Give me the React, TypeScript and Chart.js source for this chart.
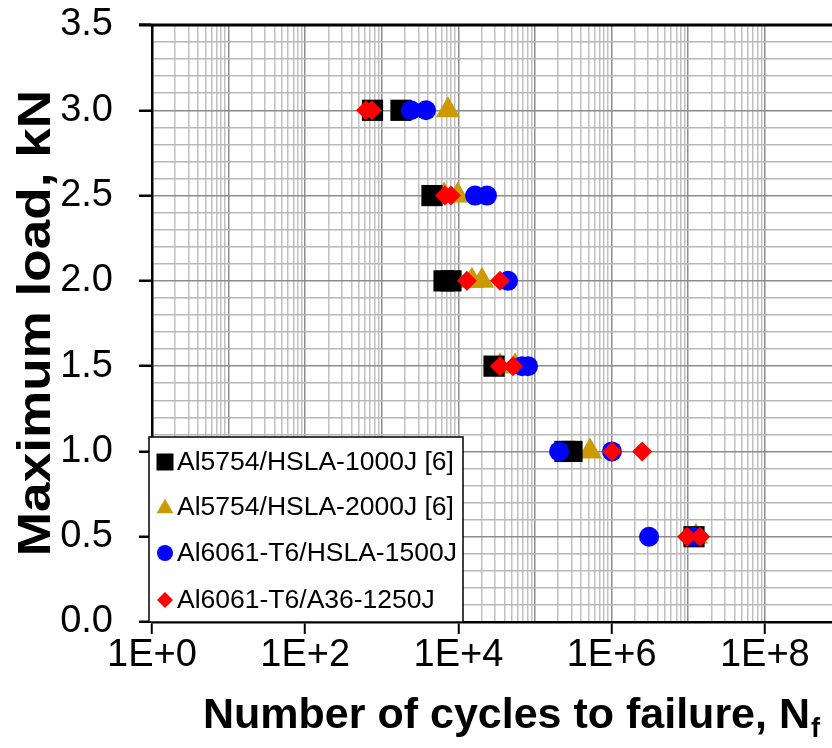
import React, { useEffect, useRef } from 'react';
import { Chart, registerables } from 'chart.js';

Chart.register(...registerables);

// Cycles to failure (N) and the maximum load (kN) for each joint series
const al5754Hsla1000Cycles = [756, 1780, 4520, 6490, 8000, 29200, 246000, 304000, 11900000];
const al5754Hsla1000Loads = [3.0, 3.0, 2.5, 2.0, 2.0, 1.5, 1.0, 1.0, 0.5];

const al5754Hsla2000Cycles = [7310, 6500, 9800, 15000, 20300, 34900, 54800, 522000, 12600000];
const al5754Hsla2000Loads = [3.0, 2.5, 2.5, 2.0, 2.0, 1.5, 1.5, 1.0, 0.5];

const al6061Hsla1500Cycles = [2400, 3780, 16500, 23600, 44400, 67600, 81100, 206000, 1010000, 3080000, 11900000];
const al6061Hsla1500Loads = [3.0, 3.0, 2.5, 2.5, 2.0, 1.5, 1.5, 1.0, 1.0, 0.5, 0.5];

const al6061A36Cycles = [622, 745, 6680, 8000, 12900, 34900, 34900, 51600, 1010000, 2500000, 9640000, 14300000];
const al6061A36Loads = [3.0, 3.0, 2.5, 2.5, 2.0, 2.0, 1.5, 1.5, 1.0, 1.0, 0.5, 0.5];

const seriesLabels = [
  'Al5754/HSLA-1000J [6]',
  'Al5754/HSLA-2000J [6]',
  'Al6061-T6/HSLA-1500J',
  'Al6061-T6/A36-1250J',
];
const seriesColors = ['#000000', '#CC9900', '#0000FF', '#FF0000'];

// Axis settings
const xLabelledDecades = [0, 2, 4, 6, 8];
const xLastDecade = 8;
const xMax = Math.pow(10, 8.877);
const yMin = 0;
const yMax = 3.5;
const yMinorStep = 0.1;
const yMajorStep = 0.5;

const FONT = "'Liberation Sans', Arial, Helvetica, sans-serif";

const pairs = (xs: number[], ys: number[]) => xs.map((x, i) => ({ x, y: ys[i] }));

function drawMarker(ctx: CanvasRenderingContext2D, kind: number, x: number, y: number, s: number, color: string) {
  ctx.fillStyle = color;
  ctx.beginPath();
  if (kind === 0) {
    ctx.rect(x - s, y - s, 2 * s, 2 * s);
  } else if (kind === 1) {
    const h = s * 1.8;
    ctx.moveTo(x, y - h / 2 - 1);
    ctx.lineTo(x + s * 1.05, y + h / 2 - 1);
    ctx.lineTo(x - s * 1.05, y + h / 2 - 1);
    ctx.closePath();
  } else if (kind === 2) {
    ctx.arc(x, y, s, 0, Math.PI * 2);
  } else {
    ctx.moveTo(x, y - s);
    ctx.lineTo(x + s, y);
    ctx.lineTo(x, y + s);
    ctx.lineTo(x - s, y);
    ctx.closePath();
  }
  ctx.fill();
}

const overlayPlugin = {
  id: 'overlay',
  afterDraw(chart: any) {
    const { ctx, chartArea: a } = chart;
    ctx.save();

    // heavy frame line along the top of the plot
    ctx.strokeStyle = '#000';
    ctx.lineWidth = 3;
    ctx.beginPath();
    ctx.moveTo(a.left - 13, a.top);
    ctx.lineTo(chart.width, a.top);
    ctx.stroke();

    // legend box in the lower-left corner of the plot
    const lx = 149, ly = 437, lw = 314, lh = a.bottom - 437;
    ctx.fillStyle = '#fff';
    ctx.fillRect(lx, ly, lw, lh);
    ctx.strokeStyle = '#000';
    ctx.lineWidth = 1.5;
    ctx.strokeRect(lx, ly, lw, lh);

    const rowY = [462, 507, 553, 600];
    const markerSize = [8.5, 8, 8, 8];
    ctx.font = `26.5px ${FONT}`;
    ctx.textBaseline = 'middle';
    ctx.textAlign = 'left';
    seriesLabels.forEach((label, i) => {
      drawMarker(ctx, i, 165, rowY[i], markerSize[i], seriesColors[i]);
      ctx.fillStyle = '#000';
      ctx.fillText(label, 177, rowY[i] + 1);
    });

    // y-axis title
    ctx.save();
    ctx.translate(35, 323);
    ctx.rotate(-Math.PI / 2);
    ctx.scale(1.13, 1);
    ctx.font = `bold 47px ${FONT}`;
    ctx.textAlign = 'center';
    ctx.textBaseline = 'middle';
    ctx.fillStyle = '#000';
    ctx.fillText('Maximum load, kN', 0, 2);
    ctx.restore();

    // x-axis title with subscript f
    const main = 'Number of cycles to failure, N';
    const sub = 'f';
    ctx.font = `bold 43px ${FONT}`;
    const wMain = ctx.measureText(main).width;
    ctx.font = `bold 27px ${FONT}`;
    const wSub = ctx.measureText(sub).width;
    const cx = 511;
    const startX = cx - (wMain + wSub) / 2;
    const baseY = 728;
    ctx.textAlign = 'left';
    ctx.textBaseline = 'alphabetic';
    ctx.fillStyle = '#000';
    ctx.font = `bold 43px ${FONT}`;
    ctx.fillText(main, startX, baseY);
    ctx.font = `bold 27px ${FONT}`;
    ctx.fillText(sub, startX + wMain + 1, baseY + 9);

    ctx.restore();
  },
};

export default function App() {
  const canvasRef = useRef<HTMLCanvasElement | null>(null);

  useEffect(() => {
    document.body.style.margin = '0';
    const canvas = canvasRef.current;
    if (!canvas) return;

    const isYMajor = (v: number) => Math.abs(v / yMajorStep - Math.round(v / yMajorStep)) < 1e-6;
    const decadeOf = (v: number) => {
      const l = Math.log10(v);
      return Math.abs(l - Math.round(l)) < 1e-6 ? Math.round(l) : null;
    };

    const chart = new Chart(canvas, {
      type: 'scatter',
      data: {
        datasets: [
          {
            label: seriesLabels[0],
            data: pairs(al5754Hsla1000Cycles, al5754Hsla1000Loads),
            pointStyle: 'rect',
            pointRadius: 15,
            backgroundColor: seriesColors[0],
            borderColor: seriesColors[0],
            borderWidth: 0,
            order: 3,
          },
          {
            label: seriesLabels[1],
            data: pairs(al5754Hsla2000Cycles, al5754Hsla2000Loads),
            pointStyle: 'triangle',
            pointRadius: 14,
            backgroundColor: seriesColors[1],
            borderColor: seriesColors[1],
            borderWidth: 0,
            order: 4,
          },
          {
            label: seriesLabels[2],
            data: pairs(al6061Hsla1500Cycles, al6061Hsla1500Loads),
            pointStyle: 'circle',
            pointRadius: 10,
            backgroundColor: seriesColors[2],
            borderColor: seriesColors[2],
            borderWidth: 0,
            order: 2,
          },
          {
            label: seriesLabels[3],
            data: pairs(al6061A36Cycles, al6061A36Loads),
            pointStyle: 'rectRot',
            pointRadius: 10,
            backgroundColor: seriesColors[3],
            borderColor: seriesColors[3],
            borderWidth: 0,
            order: 1,
          },
        ],
      },
      options: {
        responsive: false,
        animation: false,
        events: [],
        layout: { autoPadding: false, padding: { top: 25, right: 0, left: 0, bottom: 0 } },
        plugins: {
          legend: { display: false },
          tooltip: { enabled: false },
        },
        scales: {
          x: {
            type: 'logarithmic',
            min: 1,
            max: xMax,
            afterBuildTicks: (scale: any) => {
              const ticks: { value: number }[] = [];
              for (let d = 0; d < xLastDecade; d++) {
                for (let m = 1; m <= 9; m++) ticks.push({ value: m * Math.pow(10, d) });
              }
              ticks.push({ value: Math.pow(10, xLastDecade) });
              scale.ticks = ticks;
            },
            afterFit: (scale: any) => {
              scale.height = 126;
              scale.paddingLeft = 0;
              scale.paddingRight = 0;
            },
            ticks: {
              autoSkip: false,
              maxRotation: 0,
              minRotation: 0,
              padding: -1,
              color: '#000',
              font: { family: FONT, size: 38 },
              callback: (value: any) => {
                const d = decadeOf(Number(value));
                return d !== null && xLabelledDecades.includes(d) ? `1E+${d}` : '';
              },
            },
            grid: {
              color: (ctx: any) => (decadeOf(ctx.tick.value) !== null ? '#8c8c8c' : '#c0c0c0'),
              lineWidth: 1.5,
              drawTicks: true,
              tickLength: 12,
              tickWidth: 2,
              tickColor: (ctx: any) => {
                const d = decadeOf(ctx.tick.value);
                return d !== null && xLabelledDecades.includes(d) ? '#000' : 'rgba(0,0,0,0)';
              },
            },
            border: { display: true, color: '#000', width: 2.5 },
          },
          y: {
            type: 'linear',
            min: yMin,
            max: yMax,
            afterFit: (scale: any) => {
              scale.width = 152;
              scale.paddingTop = 0;
              scale.paddingBottom = 0;
            },
            ticks: {
              stepSize: yMinorStep,
              autoSkip: false,
              padding: 26,
              color: '#000',
              font: { family: FONT, size: 38 },
              callback: (value: any) => (isYMajor(Number(value)) ? Number(value).toFixed(1) : ''),
            },
            grid: {
              color: (ctx: any) => (isYMajor(ctx.tick.value) ? '#8c8c8c' : '#b8b8b8'),
              lineWidth: 1.5,
              drawTicks: true,
              tickLength: 13,
              tickWidth: 2.5,
              tickColor: (ctx: any) => (isYMajor(ctx.tick.value) ? '#000' : 'rgba(0,0,0,0)'),
            },
            border: { display: true, color: '#000', width: 2.5 },
          },
        },
      },
      plugins: [overlayPlugin],
    } as any);

    return () => chart.destroy();
  }, []);

  return <canvas ref={canvasRef} width={832} height={748} style={{ display: 'block' }} />;
}
